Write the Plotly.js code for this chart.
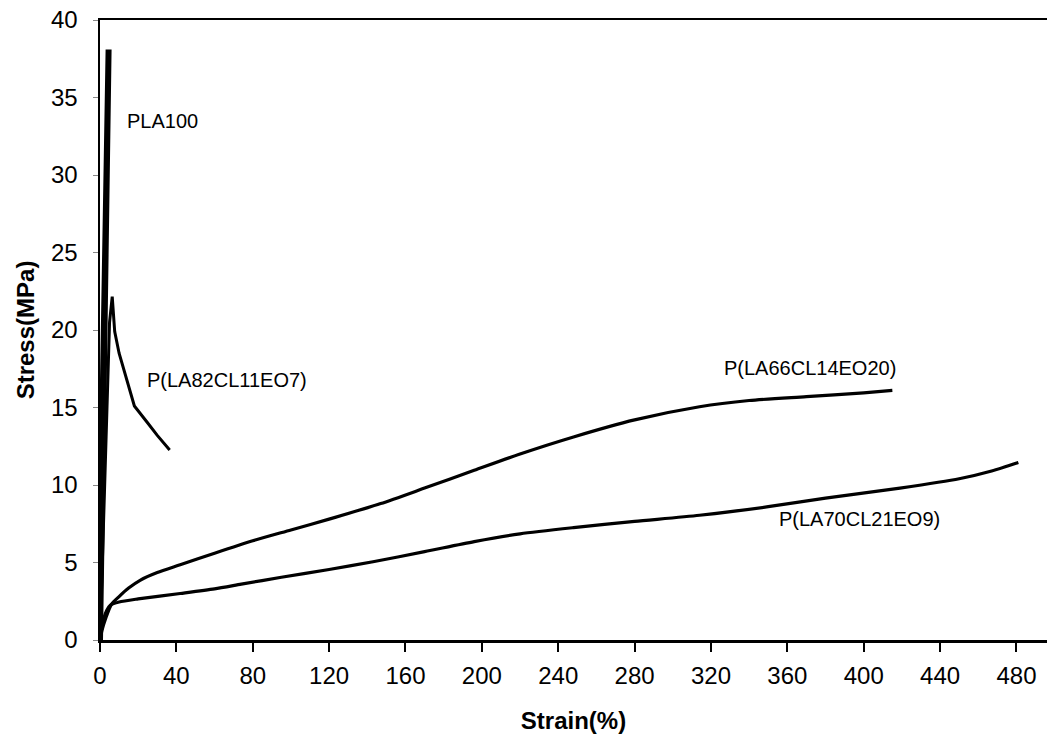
<!DOCTYPE html>
<html>
<head>
<meta charset="utf-8">
<script src="https://cdn.plot.ly/plotly-3.0.1.min.js"></script>
<style>html,body{margin:0;padding:0;background:#fff;}#chart{width:1047px;height:735px;}</style>
</head>
<body>
<div id="chart"></div>
<script>
// PLA100
const pla100X = [0, 1, 2, 3, 4, 4.5, 3.5, 2, 0.5, 0];
const pla100Y = [0, 8, 17, 27, 35, 38.1, 30, 18, 9, 7.8];
// P(LA82CL11EO7)
const la82X = [0, 1, 2, 3, 4, 5, 6.4, 7.7, 10, 13, 18, 25, 30, 36.5];
const la82Y = [0, 4, 9, 13, 17, 20.5, 22.15, 19.9, 18.5, 17.2, 15.1, 14.0, 13.2, 12.26];
// P(LA66CL14EO20)
const la66X = [0, 1, 3, 6, 10, 15, 21, 30, 42, 60, 80, 100, 120, 147, 170, 196, 220, 248, 280, 314, 340, 370, 400, 415];
const la66Y = [0, 0.6, 1.4, 2.3, 2.8, 3.35, 3.85, 4.35, 4.85, 5.6, 6.4, 7.1, 7.8, 8.8, 9.8, 10.95, 12.0, 13.1, 14.2, 15.05, 15.45, 15.7, 15.95, 16.1];
// P(LA70CL21EO9)
const la70X = [0, 1, 2, 3.5, 5.5, 10, 20, 42, 60, 74, 95, 120, 143, 170, 196, 220, 248, 280, 314, 350, 380, 419, 450, 467, 481];
const la70Y = [0, 0.8, 1.4, 1.9, 2.25, 2.45, 2.65, 3.0, 3.3, 3.6, 4.05, 4.55, 5.05, 5.7, 6.35, 6.85, 7.25, 7.65, 8.05, 8.6, 9.15, 9.8, 10.4, 10.9, 11.45];

const labelTexts = ['PLA100', 'P(LA82CL11EO7)', 'P(LA66CL14EO20)', 'P(LA70CL21EO9)'];
const labelX = [13.3, 23.8, 326, 354.5];
const labelY = [33.5, 16.8, 17.55, 7.8];

const xTicks = [0, 40, 80, 120, 160, 200, 240, 280, 320, 360, 400, 440, 480];
const yTicks = [0, 5, 10, 15, 20, 25, 30, 35, 40];

const lineStyle = w => ({color: '#000', width: w, shape: 'spline', smoothing: 0.7});
const traces = [
  {x: pla100X, y: pla100Y, mode: 'lines', line: {color: '#000', width: 6}},
  {x: la82X, y: la82Y, mode: 'lines', line: {color: '#000', width: 3}},
  {x: la66X, y: la66Y, mode: 'lines', line: lineStyle(3.2)},
  {x: la70X, y: la70Y, mode: 'lines', line: lineStyle(3.2)}
];

const annotations = labelTexts.map((t, i) => ({
  x: labelX[i], y: labelY[i], xref: 'x', yref: 'y', text: t, showarrow: false,
  xanchor: 'left', yanchor: 'middle', font: {family: 'Liberation Sans, Arial, sans-serif', size: 20, color: '#000'}
}));

const layout = {
  width: 1047, height: 735,
  margin: {l: 100, r: 0, t: 20, b: 95},
  paper_bgcolor: '#fff', plot_bgcolor: '#fff',
  showlegend: false,
  font: {family: 'Liberation Sans, Arial, sans-serif', color: '#000'},
  xaxis: {
    range: [0, 496], tickvals: xTicks, ticktext: xTicks.map(String),
    showgrid: false, zeroline: false, showline: true, linecolor: '#000', linewidth: 2.5, mirror: true,
    ticks: 'outside', ticklen: 9, tickwidth: 2, tickcolor: '#000',
    ticklabelstandoff: 4,
    tickfont: {size: 24, color: '#000'},
    title: {text: '<b>Strain(%)</b>', font: {size: 24, color: '#000'}, standoff: 24}
  },
  yaxis: {
    range: [0, 40], tickvals: yTicks, ticktext: yTicks.map(String),
    showgrid: false, zeroline: false, showline: true, linecolor: '#000', linewidth: 2.5,
    ticks: 'outside', ticklen: 5, tickwidth: 1, tickcolor: '#888',
    ticklabelstandoff: 10,
    tickfont: {size: 24, color: '#000'},
    title: {text: '<b>Stress(MPa)</b>', font: {size: 24, color: '#000'}, standoff: 10}
  },
  annotations: annotations
};

Plotly.newPlot('chart', traces, layout, {displayModeBar: false, staticPlot: true});
</script>
</body>
</html>
